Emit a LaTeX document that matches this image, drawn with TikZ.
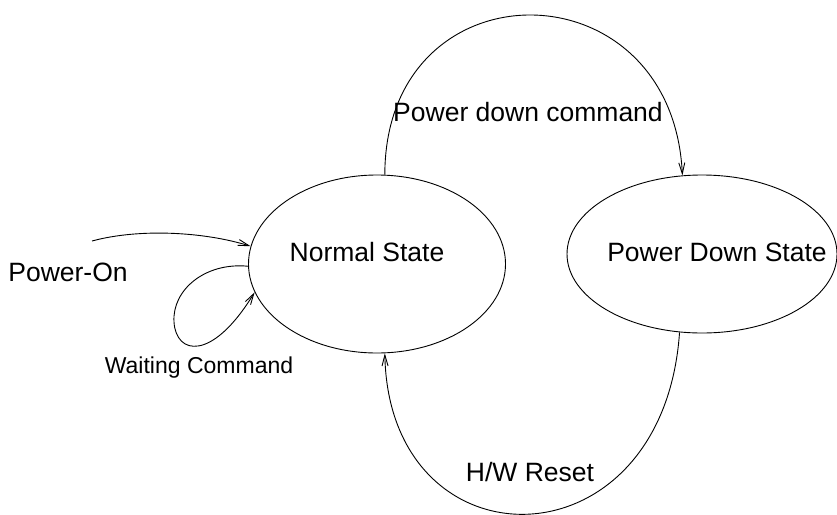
\documentclass[tikz,border=0pt]{standalone}
\usepackage{fontspec}
\setmainfont{Liberation Sans}
\usetikzlibrary{arrows.meta,shapes.geometric}

\begin{document}
\begin{tikzpicture}[x=1pt,y=-1pt,line width=0.9pt,
  state/.style={draw,ellipse,inner sep=0pt},
  lbl/.style={font=\fontsize{26.5}{31}\selectfont,inner sep=0pt},
  trans/.style={-{Straight Barb[length=11pt,width=6pt]}}]
\useasboundingbox (0,0) rectangle (837,514);
% states
\node[state,minimum width=257pt,minimum height=178pt] (normal) at (377,264) {};
\node[state,minimum width=270pt,minimum height=158pt] (pdown) at (702,254) {};
\node[lbl] (normaltxt) at (367,252) {Normal State};
\node[lbl] (pdowntxt) at (717,252) {Power Down State};
% transitions
\coordinate (pon) at (92,241);
\draw[trans] (pon) .. controls (140,228) and (205,232) .. (normal.172);
\node[lbl] (pontxt) at (68,272) {Power-On};
\draw[trans] (normal.181) .. controls (205,262) and (172,290) .. (174,322)
  .. controls (176,355) and (212,362) .. (normal.193);
\node[lbl,font=\fontsize{23}{28}\selectfont] (waittxt) at (199,368) {Waiting Command};
\draw[trans] (normal.85) .. controls (385,-38) and (672,-38) .. (pdown.104);
\node[lbl] (pdcmd) at (528,112) {Power down command};
\draw[trans] (pdown.254) .. controls (663,571) and (389,571) .. (normal.275);
\node[lbl] (hwrst) at (530,472) {H/W Reset};
\end{tikzpicture}
\end{document}
